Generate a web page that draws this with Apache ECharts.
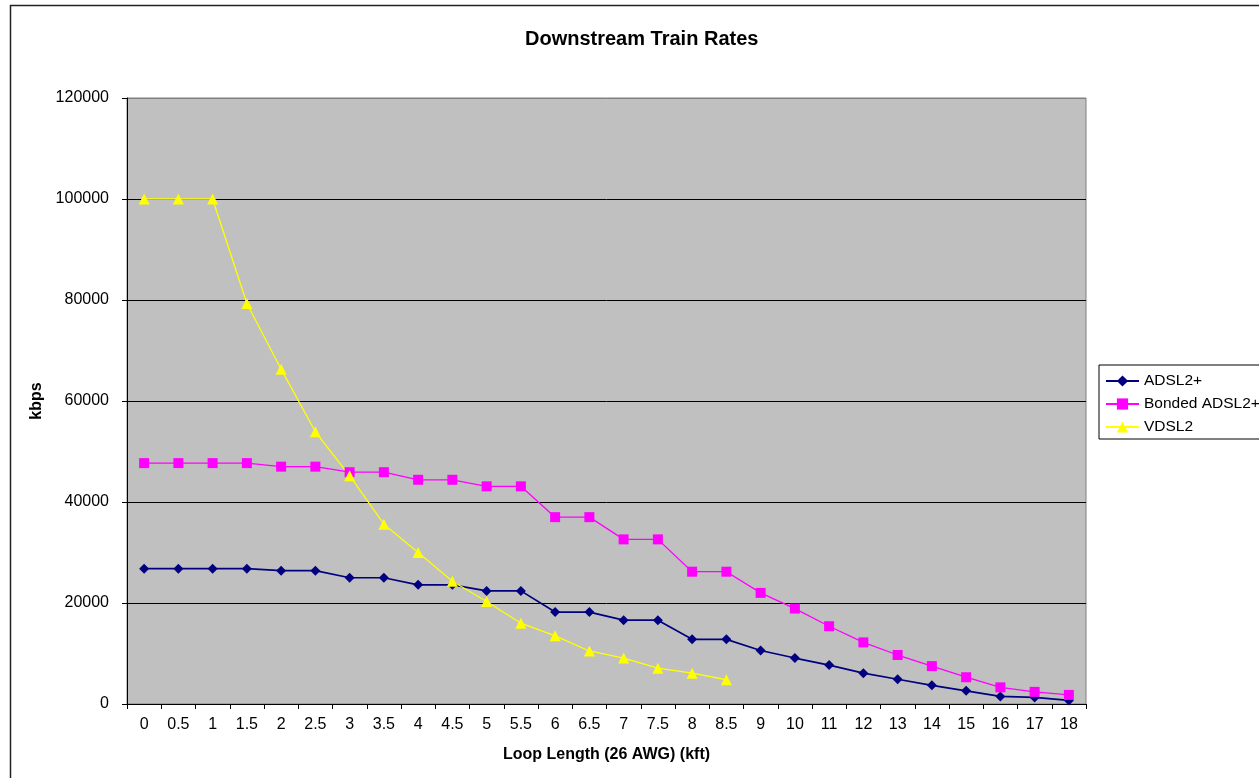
<!DOCTYPE html>
<html>
<head>
<meta charset="utf-8">
<title>Downstream Train Rates</title>
<script src="https://cdn.jsdelivr.net/npm/echarts@6/dist/echarts.min.js"></script>
<style>
  html, body { margin: 0; padding: 0; background: #ffffff; }
  #chart { width: 1259px; height: 778px; }
</style>
</head>
<body>
<div id="chart"></div>
<script>
// Loop length categories (kft, 26 AWG)
const loopLengths = ['0', '0.5', '1', '1.5', '2', '2.5', '3', '3.5', '4', '4.5', '5', '5.5', '6', '6.5',
  '7', '7.5', '8', '8.5', '9', '10', '11', '12', '13', '14', '15', '16', '17', '18'];

// Downstream train rates, kbps
const adsl2plus = [26800, 26800, 26800, 26800, 26400, 26400, 25000, 25000, 23600, 23600, 22400, 22400,
  18200, 18200, 16600, 16600, 12800, 12800, 10600, 9100, 7700, 6100, 4900, 3700, 2600, 1500, 1300, 700];

const bondedAdsl2plus = [47700, 47700, 47700, 47700, 47000, 47000, 45900, 45900, 44400, 44400, 43100, 43100,
  37000, 37000, 32600, 32600, 26200, 26200, 22000, 18900, 15400, 12200, 9700, 7500, 5300, 3300, 2400, 1800];

const vdsl2 = [100000, 100000, 100000, 79300, 66300, 53900, 45200, 35600, 30000, 24300, 20300, 16000,
  13500, 10500, 9100, 7100, 6100, 4800, null, null, null, null, null, null, null, null, null, null];

const yTicks = { min: 0, max: 120000, step: 20000 };

const FONT = 'Arial, "Liberation Sans", sans-serif';

const chart = echarts.init(document.getElementById('chart'), null, { renderer: 'canvas' });

function lineSeries(name, data, color, symbol, size, width) {
  return {
    name: name,
    type: 'line',
    data: data,
    color: color,
    symbol: symbol,
    symbolSize: size,
    showSymbol: true,
    connectNulls: false,
    animation: false,
    lineStyle: { color: color, width: width },
    itemStyle: { color: color, borderWidth: 0 },
    emphasis: { disabled: true }
  };
}

chart.setOption({
  backgroundColor: '#ffffff',
  animation: false,
  title: {
    text: 'Downstream Train Rates',
    left: 525,
    top: 29,
    padding: 0,
    textStyle: { fontFamily: FONT, fontSize: 20, fontWeight: 'bold', color: '#000' }
  },
  graphic: [{
    type: 'rect',
    silent: true,
    z: -1,
    shape: { x: 10.5, y: 5.5, width: 1300, height: 800 },
    style: { fill: 'none', stroke: '#222', lineWidth: 1.5 }
  }],
  legend: {
    orient: 'vertical',
    left: 1099,
    top: 365,
    padding: [8, 40, 4, 6],
    itemWidth: 33,
    itemHeight: 14,
    itemGap: 7,
    backgroundColor: '#ffffff',
    borderColor: '#000',
    borderWidth: 1,
    borderRadius: 0,
    textStyle: { fontFamily: FONT, fontSize: 15.5, color: '#000' },
    data: ['ADSL2+', 'Bonded ADSL2+', 'VDSL2']
  },
  grid: {
    left: 127,
    right: 173,
    top: 98,
    bottom: 74,
    show: true,
    backgroundColor: '#c0c0c0',
    borderColor: '#808080',
    borderWidth: 1
  },
  xAxis: {
    type: 'category',
    data: loopLengths,
    boundaryGap: true,
    name: 'Loop Length (26 AWG) (kft)',
    nameLocation: 'middle',
    nameGap: 43,
    nameTextStyle: { fontFamily: FONT, fontSize: 16, fontWeight: 'bold', color: '#000' },
    axisLine: { show: true, lineStyle: { color: '#000', width: 1 } },
    axisTick: { show: true, alignWithLabel: false, length: 5, lineStyle: { color: '#000' } },
    axisLabel: { interval: 0, margin: 13, fontFamily: FONT, fontSize: 16, color: '#000' },
    splitLine: { show: false }
  },
  yAxis: {
    type: 'value',
    min: yTicks.min,
    max: yTicks.max,
    interval: yTicks.step,
    name: 'kbps',
    nameLocation: 'middle',
    nameRotate: 90,
    nameGap: 81,
    nameTextStyle: { fontFamily: FONT, fontSize: 16, fontWeight: 'bold', color: '#000' },
    axisLine: { show: true, lineStyle: { color: '#000', width: 1 } },
    axisTick: { show: true, length: 5, lineStyle: { color: '#000' } },
    axisLabel: {
      margin: 18,
      fontFamily: FONT,
      fontSize: 16,
      color: '#000',
      formatter: function (v) { return String(v); }
    },
    splitLine: {
      show: true,
      lineStyle: { color: ['#000', '#000', '#000', '#000', '#000', '#000', '#808080'], width: 1 }
    }
  },
  series: [
    lineSeries('ADSL2+', adsl2plus, '#000080', 'diamond', 10, 1.7),
    lineSeries('Bonded ADSL2+', bondedAdsl2plus, '#ff00ff', 'rect', 10, 1.3),
    lineSeries('VDSL2', vdsl2, '#ffff00', 'triangle', 11, 1.3)
  ]
});
</script>
</body>
</html>
